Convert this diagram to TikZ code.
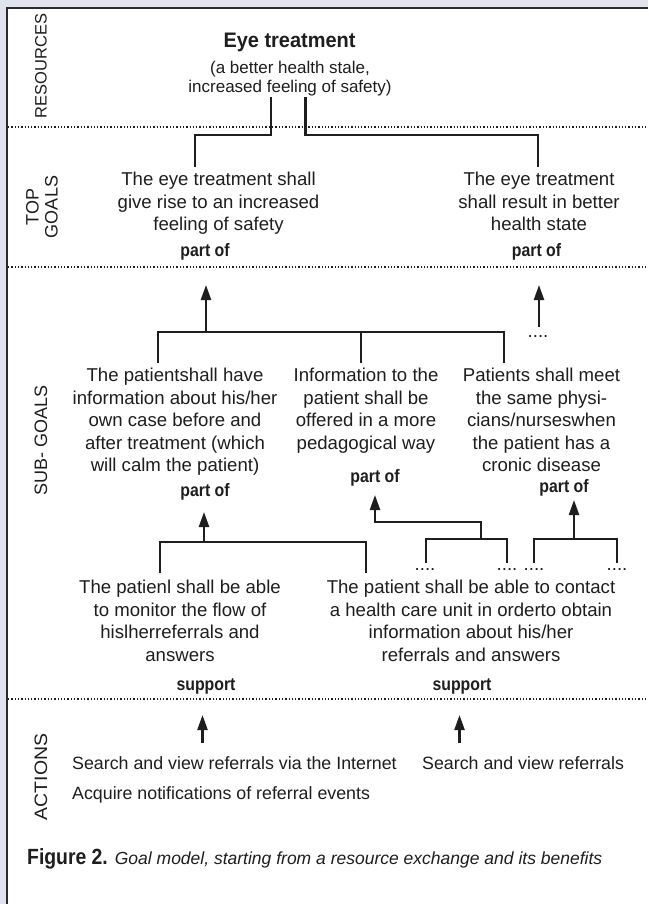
\documentclass[tikz,border=0pt]{standalone}
\usepackage{fontspec}
\usepackage{graphicx}
\setmainfont{Liberation Sans}
\newfontfamily\bodyfont{Liberation Sans}
\newfontfamily\heavyfont{Liberation Sans}[FakeStretch=0.88]
\usetikzlibrary{arrows.meta}
\definecolor{pagebg}{HTML}{DEE3ED}
\definecolor{ink}{HTML}{1E1E1E}
\definecolor{framecol}{HTML}{2A2A2A}

\begin{document}
\begin{tikzpicture}[x=1pt,y=-1pt,
  goal/.style={font=\bodyfont\fontsize{18.6}{22.5}\selectfont, align=center, anchor=north, inner sep=0pt, text=ink},
  benefit/.style={font=\bodyfont\fontsize{17}{19}\selectfont, align=center, anchor=north, inner sep=0pt, text=ink},
  rel/.style={font=\heavyfont\bfseries\fontsize{18}{20}\selectfont, inner sep=0pt, text=ink},
  band/.style={rotate=90, align=center, inner sep=0pt, text=ink},
  conn/.style={line width=2.3pt, draw=ink},
  uparrow/.style={conn, -{Triangle[length=15pt,width=10pt]}},
  sep/.style={line width=1.4pt, draw=ink, dash pattern=on 1.3pt off 2pt},
  act/.style={font=\bodyfont\fontsize{17.8}{22}\selectfont, anchor=west, inner sep=0pt, text=ink},
  more/.style={font=\bodyfont\fontsize{18.6}{22}\selectfont, anchor=base, inner sep=0pt, text=ink},
]
\useasboundingbox (0,0) rectangle (648,904);

% panel and frame
\fill[pagebg] (0,0) rectangle (648,904);
\fill[white] (7,8) rectangle (648,904);
\draw[framecol, line width=2pt] (7,904) -- (7,8) -- (648,8);

% band separators
\draw[sep] (8,127) -- (648,127);
\draw[sep] (8,267) -- (648,267);
\draw[sep] (8,699) -- (648,699);

% band labels
\node[band, font=\fontsize{16.5}{18}\selectfont] (lres) at (41,66) {RESOURCES};
\node[band, font=\fontsize{18}{19}\selectfont] (ltop) at (42,207) {TOP\\GOALS};
\node[band, font=\fontsize{18}{19}\selectfont] (lsub) at (41,440) {SUB- GOALS};
\node[band, font=\fontsize{18}{19}\selectfont] (lact) at (41,777) {\scalebox{1.08}[1]{ACTIONS}};

% resource
\node[inner sep=0pt, text=ink, font=\heavyfont\bfseries\fontsize{21}{24}\selectfont] (eye) at (289.5,42) {\scalebox{1.08}[1]{Eye treatment}};
\node[benefit] (gain) at (290,61) {(a better health stale,\\increased feeling of safety)};

% top goals
\node[goal] (tg1) at (218.5,172) {The eye treatment shall\\give rise to an increased\\feeling of safety};
\node[goal] (tg2) at (539,172) {The eye treatment\\shall result in better\\health state};
\node[rel] (po1) at (205,252) {part of};
\node[rel] (po2) at (536.5,252) {part of};

% sub-goals
\node[goal] (sg1) at (175,368) {The patientshall have\\information about his/her\\own case before and\\after treatment (which\\will calm the patient)};
\node[goal] (sg2) at (366,368) {Information to the\\patient shall be\\offered in a more\\pedagogical way};
\node[goal] (sg3) at (541.5,368) {Patients shall meet\\the same physi-\\cians/nurseswhen\\the patient has a\\cronic disease};
\node[rel] (po3) at (205,492) {part of};
\node[rel] (po4) at (375,478) {part of};
\node[rel] (po5) at (564,488) {part of};

% lower sub-goals
\node[goal] (ssg1) at (180,580) {The patienl shall be able\\to monitor the flow of\\hislherreferrals and\\answers};
\node[goal] (ssg2) at (471,580) {The patient shall be able to contact\\a health care unit in orderto obtain\\information about his/her\\referrals and answers};
\node[rel] (su1) at (206,686) {support};
\node[rel] (su2) at (462,686) {support};

% open branches
\node[more] (d0) at (538,337) {....};
\node[more] (d1) at (425,570) {....};
\node[more] (d2) at (507,570) {....};
\node[more] (d3) at (534,570) {....};
\node[more] (d4) at (617,570) {....};

% actions
\node[act] (ac1) at (72,763) {Search and view referrals via the Internet};
\node[act] (ac2) at (422,763) {Search and view referrals};
\node[act] (ac3) at (72,795) {Acquire notifications of referral events};

% caption
\node[anchor=west, inner sep=0pt, text=ink] (cap) at (27,859)
  {{\heavyfont\bfseries\fontsize{22}{24}\selectfont Figure 2.}\hspace{7pt}{\bodyfont\itshape\fontsize{17.5}{22}\selectfont Goal model, starting from a resource exchange and its benefits}};

% connector end points
\coordinate (eyeL) at (271,97);
\coordinate (eyeR) at (305.5,97);
\coordinate (tg1in) at (195,167);
\coordinate (tg2in) at (538,167);

\coordinate (sgA) at (158,363);
\coordinate (sgB) at (361,363);
\coordinate (sgC) at (504,363);
\coordinate (a1foot) at (206,332);
\coordinate (a1tip) at (206,285);
\coordinate (a2foot) at (539,327);
\coordinate (a2tip) at (539,285);

\coordinate (ssA) at (160,573);
\coordinate (ssB) at (366,573);
\coordinate (b1foot) at (204,542);
\coordinate (b1tip) at (204,512);

\coordinate (mA) at (426,563);
\coordinate (mB) at (507,563);
\coordinate (b2foot) at (481,539);
\coordinate (b2knee) at (375,522);
\coordinate (b2tip) at (375,495);

\coordinate (rA) at (534,563);
\coordinate (rB) at (617,563);
\coordinate (b3foot) at (574,539);
\coordinate (b3tip) at (574,500);

\coordinate (c1foot) at (202.5,743);
\coordinate (c1tip) at (202.5,715);
\coordinate (c2foot) at (459.5,743);
\coordinate (c2tip) at (459.5,715);

% resource to top goals
\draw[conn] (eyeL) -- ++(0,38) -| (tg1in);
\draw[conn] (eyeR) -- ++(0,38) -| (tg2in);

% sub-goals to top goals
\draw[conn] (sgA) -- ++(0,-31) -| (sgC);
\draw[conn] (sgB) -- ++(0,-31);
\draw[uparrow] (a1foot) -- (a1tip);
\draw[uparrow] (a2foot) -- (a2tip);

% lower sub-goals to sub-goals
\draw[conn] (ssA) -- ++(0,-31) -| (ssB);
\draw[uparrow] (b1foot) -- (b1tip);
\draw[conn] (mA) -- ++(0,-24) -| (mB);
\draw[uparrow] (b2foot) |- (b2knee) -- (b2tip);
\draw[conn] (rA) -- ++(0,-24) -| (rB);
\draw[uparrow] (b3foot) -- (b3tip);

% actions supporting goals
\draw[uparrow] (c1foot) -- (c1tip);
\draw[uparrow] (c2foot) -- (c2tip);
\end{tikzpicture}
\end{document}
